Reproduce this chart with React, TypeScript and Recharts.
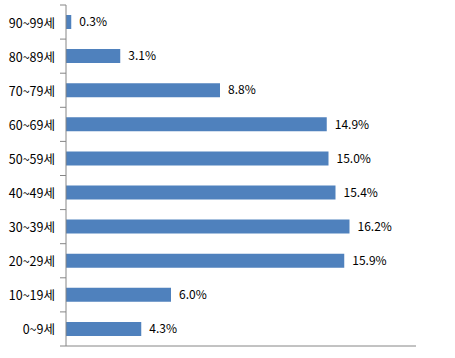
import { BarChart, Bar, XAxis, YAxis, LabelList } from 'recharts';

const ageGroups = ['90~99세', '80~89세', '70~79세', '60~69세', '50~59세', '40~49세', '30~39세', '20~29세', '10~19세', '0~9세'];
const shares = [0.3, 3.1, 8.8, 14.9, 15.0, 15.4, 16.2, 15.9, 6.0, 4.3];
const xTicks = [0, 5, 10, 15, 20];

const data = ageGroups.map((name, i) => ({ name, value: shares[i] }));

const AXIS = '#868686';
const FONT = '"Noto Sans CJK KR", "Noto Sans", sans-serif';

const AgeTick = (props: any) => {
  const { x, y, payload, index, visibleTicksCount } = props;
  const half = payload && payload.offset ? payload.offset : 0;
  const axisX = x + 12;
  return (
    <g>
      <line x1={axisX - 6} x2={axisX} y1={y - half} y2={y - half} stroke={AXIS} />
      {index === visibleTicksCount - 1 && (
        <line x1={axisX - 6} x2={axisX} y1={y + half} y2={y + half} stroke={AXIS} />
      )}
      <text x={x + 1} y={y} textAnchor="end" dominantBaseline="central" fontSize={12.5} fill="#000" fontFamily={FONT}>
        {payload.value}
      </text>
    </g>
  );
};

export default function App() {
  return (
    <div style={{ position: 'absolute', left: 0, top: 0, width: 455, height: 358, background: '#fff' }}>
      <BarChart
        width={455}
        height={358}
        data={data}
        layout="vertical"
        margin={{ top: 5, right: 39, left: 0, bottom: 0 }}
      >
        <XAxis
          type="number"
          domain={[0, 20]}
          ticks={xTicks}
          tick={false}
          tickSize={4}
          height={12}
          axisLine={{ stroke: AXIS }}
          tickLine={{ stroke: AXIS }}
        />
        <YAxis
          type="category"
          dataKey="name"
          width={66}
          tickLine={false}
          tickSize={6}
          tickMargin={6}
          axisLine={{ stroke: AXIS }}
          tick={<AgeTick />}
          interval={0}
        />
        <Bar dataKey="value" fill="#4F81BD" barSize={14} isAnimationActive={false}>
          <LabelList
            dataKey="value"
            position="right"
            offset={8}
            formatter={(v: any) => `${Number(v).toFixed(1)}%`}
            style={{ fontSize: 12, fill: '#000', fontFamily: FONT }}
          />
        </Bar>
      </BarChart>
    </div>
  );
}
